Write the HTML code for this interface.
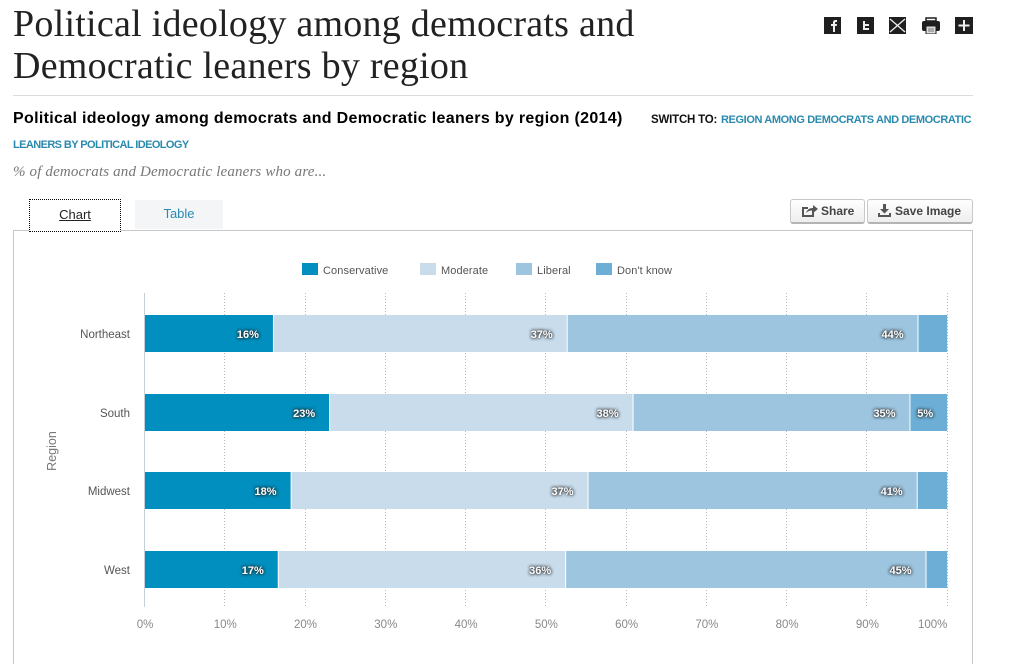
<!DOCTYPE html>
<html lang="en">
<head>
<meta charset="utf-8">
<title>Political ideology among democrats and Democratic leaners by region</title>
<style>
html,body{margin:0;padding:0;background:#fff;height:664px;overflow:hidden;}
body{width:1014px;position:relative;font-family:"Liberation Sans",sans-serif;}
.abs{position:absolute;white-space:nowrap;}
.link{color:#2a8aae;text-decoration:none;}
.btn{position:absolute;top:199px;height:22px;border:1px solid #c8c8c8;border-bottom:2px solid #b4b4b4;border-radius:3px;background:linear-gradient(#fff,#eee);color:#444;font-weight:bold;font-size:12px;line-height:23px;box-sizing:content-box;white-space:nowrap;}
.icon{position:absolute;top:17px;width:17px;height:17px;}
</style>
</head>
<body>
<div class="abs" style="left:13px;top:3px;font-family:'Liberation Serif',serif;font-size:38px;line-height:42px;color:#222;letter-spacing:0.25px;">Political ideology among democrats and<br>Democratic leaners by region</div>

<svg class="icon" style="left:824px" viewBox="0 0 17 17"><rect width="17" height="17" fill="#1f1f1f"/><path d="M9 15V9H7V7h2V5.500C9 4 10 3 11.500 3H13v2h-1c-.6 0-1 .3-1 1v1h2l-.3 2H11v6z" fill="#eee"/></svg>
<svg class="icon" style="left:857px" viewBox="0 0 17 17"><rect width="17" height="17" fill="#1f1f1f"/><path d="M6 4h2v3h4v2H8v2h4v2H6z" fill="#eee"/></svg>
<svg class="icon" style="left:889px" viewBox="0 0 17 17"><rect width="17" height="17" fill="#1f1f1f"/><path d="M1 2l15 13M16 2L1 15" stroke="#eee" stroke-width="1.300"/></svg>
<svg class="icon" style="left:922px;width:18px;" viewBox="0 0 18 17"><path d="M4 1h10v3H4z" fill="none" stroke="#1f1f1f" stroke-width="1.500"/><rect y="4" width="18" height="10" rx="2" fill="#1f1f1f"/><rect x="4" y="9" width="10" height="8" fill="#ddd" stroke="#1f1f1f"/><path d="M6 12h6M6 14h6" stroke="#777"/></svg>
<svg class="icon" style="left:955px;width:18px;" viewBox="0 0 18 17"><rect width="18" height="17" fill="#1f1f1f"/><path d="M9 3v11M3.500 8.500h11" stroke="#eee" stroke-width="2"/></svg>

<div class="abs" style="left:13px;top:95px;width:960px;height:1px;background:#dcdcdc;"></div>
<div class="abs" style="left:13px;top:109px;font-size:16px;font-weight:bold;line-height:19px;color:#000;letter-spacing:0.32px;">Political ideology among democrats and Democratic leaners by region (2014)</div>
<div class="abs" style="left:651px;top:113px;font-size:11.500px;font-weight:bold;line-height:14px;color:#111;letter-spacing:-0.2px;">SWITCH TO:</div>
<a class="abs link" href="#" style="left:721px;top:113px;font-size:11px;font-weight:bold;line-height:14px;letter-spacing:-0.39px;">REGION AMONG DEMOCRATS AND DEMOCRATIC</a>
<a class="abs link" href="#" style="left:13px;top:138px;font-size:11px;font-weight:bold;line-height:14px;letter-spacing:-0.59px;">LEANERS BY POLITICAL IDEOLOGY</a>
<div class="abs" style="left:13px;top:163px;font-family:'Liberation Serif',serif;font-style:italic;font-size:15px;line-height:18px;color:#777;letter-spacing:0.15px;">% of democrats and Democratic leaners who are...</div>

<div class="abs" style="left:13px;top:230px;width:958px;height:434px;border:1px solid #c8c8c8;border-bottom:none;"></div>
<a class="abs" href="#" style="left:29px;top:199px;width:90px;height:31px;border:1px dotted #000;background:#fff;color:#222;font-size:13px;line-height:29px;text-align:center;text-decoration:underline;">Chart</a>
<a class="abs link" href="#" style="left:135px;top:200px;width:88px;height:29px;background:#f3f5f7;font-size:13px;line-height:27px;text-align:center;">Table</a>

<div class="btn" style="left:790px;width:73px;">
<svg style="position:absolute;left:10px;top:4px" width="17" height="14" viewBox="0 0 17 14"><path d="M12 6v6H2V4h5" fill="none" stroke="#555" stroke-width="2"/><path d="M5 9c1-3 3-5 7-5V1l5 4-5 4V6.500C9 6.500 7 7 5 9z" fill="#555"/></svg>
<span style="position:absolute;left:30px;top:0;">Share</span></div>
<div class="btn" style="left:867px;width:104px;">
<svg style="position:absolute;left:10px;top:4px" width="13" height="13" viewBox="0 0 13 13"><path d="M5 0h3v5h3L6.500 9.500 2 5h3z" fill="#555"/><path d="M0 9h2v2h9V9h2v4H0z" fill="#555"/></svg>
<span style="position:absolute;left:27px;top:0;">Save Image</span></div>

<svg id="chart" width="1014" height="664" viewBox="0 0 1014 664" style="position:absolute;left:0;top:0;"></svg>

<script>
var regions = ["Northeast", "South", "Midwest", "West"];
var seriesNames = ["Conservative", "Moderate", "Liberal", "Don't know"];
var conservative = [16.0, 23.0, 18.2, 16.6];
var moderate = [36.6, 37.8, 37.0, 35.8];
var liberal = [43.7, 34.5, 41.0, 44.9];
var dontKnow = [3.7, 4.7, 3.8, 2.7];
var xTicks = [0, 10, 20, 30, 40, 50, 60, 70, 80, 90, 100];

var colors = ["#008fbe", "#c8dcec", "#9dc5df", "#6caed5"];
var seriesValues = [conservative, moderate, liberal, dontKnow];
var legendX = [302, 420, 516, 596];
var svg = document.getElementById("chart");
var NS = "http://www.w3.org/2000/svg";

function xScale(v) { return 144.5 + v * 8.027; }
function yBand(i) { return 315 + i * 78.6; }
var barHeight = 37;

function make(tag, attrs, text) {
  var el = document.createElementNS(NS, tag);
  for (var k in attrs) { el.setAttribute(k, attrs[k]); }
  if (text !== undefined) { el.textContent = text; }
  svg.appendChild(el);
  return el;
}

seriesNames.forEach(function (name, s) {
  var swatch = make("rect", { x: legendX[s], y: 263, width: 16, height: 12, fill: colors[s] });
  
  
  var label = make("text", { x: legendX[s] + 21, y: 274, "font-size": 11, fill: "#555", "letter-spacing": 0.1 }, name);
  
  
});

xTicks.forEach(function (t) {
  if (t > 0) {
    var gx = Math.floor(xScale(t)) + 0.5;
    var grid = make("line", { x1: gx, x2: gx, y1: 293, y2: 607, stroke: "#b8b8b8", "stroke-width": 1, "stroke-dasharray": "1 2" });
    
    
  }
  var tick = make("text", { x: xScale(t) + (t === 100 ? -14.5 : 0.5), y: 628, "font-size": 11.5, fill: "#888", "text-anchor": "middle" }, t + "%");
  
  
});

var axis = make("line", { x1: 144.5, x2: 144.5, y1: 293, y2: 607, stroke: "#c4cfd8", "stroke-width": 1 });



regions.forEach(function (region, r) {
  var y = Math.round(yBand(r));
  var cat = make("text", { x: 130, y: y + 23, "font-size": 11.5, fill: "#555", "text-anchor": "end" }, region);
  
  
  var cum = 0;
  seriesValues.forEach(function (vals, s) {
    var v = vals[r];
    var x0 = xScale(cum);
    var x1 = xScale(cum + v);
    var bar = make("rect", { x: x0 + (s > 0 ? 1 : 0.5), y: y, width: Math.max(0, x1 - x0 - (s > 0 ? 1 : 0.5)), height: barHeight, fill: colors[s] });
    
    
    cum += v;
    if (v >= 4.5) {
      var value = make("text", { x: x1 - 14, y: y + 23, "font-size": 11, "font-weight": "bold", fill: "#fff", "text-anchor": "end", style: "text-shadow:0 0 3px #222,0 0 3px #222" }, Math.round(v) + "%");
      
      
    }
  });
});

var yTitle = make("text", { x: 0, y: 0, transform: "translate(56 451) rotate(-90)", "font-size": 12.5, fill: "#777", "text-anchor": "middle" }, "Region");


</script>
</body>
</html>
